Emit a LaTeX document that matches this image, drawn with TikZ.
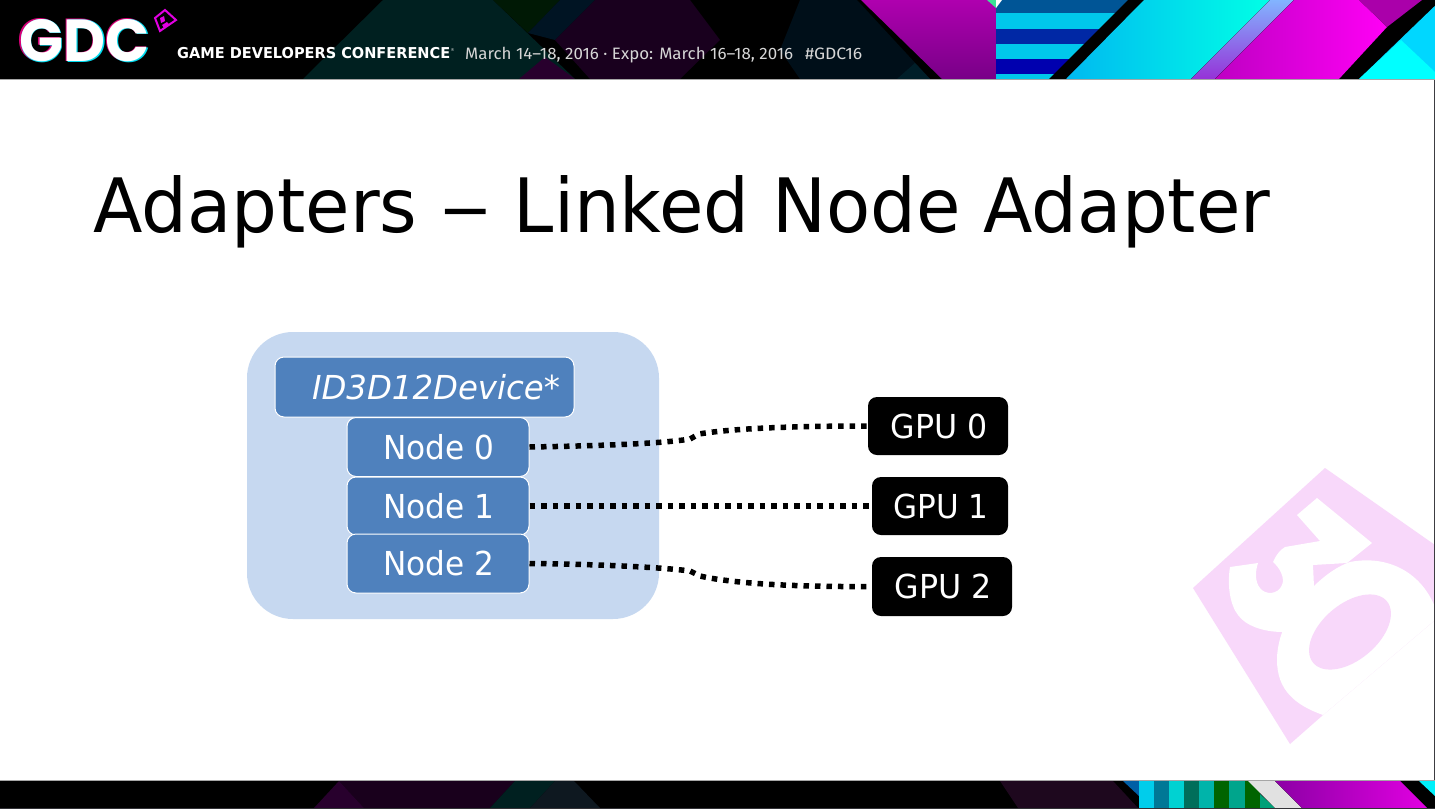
\documentclass[tikz,border=0pt]{standalone}
\usepackage{fontspec}
\usepackage{graphicx}
\usetikzlibrary{calc}
\setmainfont{DejaVu Sans}
\newfontfamily\logofont{Poppins}
\newfontfamily\bannerfont{Fira Sans}
\definecolor{panelblue}{RGB}{198,216,240}
\definecolor{boxblue}{RGB}{79,129,189}
\definecolor{wmpink}{RGB}{248,216,250}
\definecolor{hdrgray}{RGB}{214,214,214}
\definecolor{stripecyan}{RGB}{0,200,235}
\definecolor{logomag}{RGB}{225,0,225}
\definecolor{logored}{RGB}{215,0,120}
\definecolor{logocyan}{RGB}{0,220,240}
\definecolor{gA}{RGB}{175,0,175}
\definecolor{gB}{RGB}{120,0,135}
\definecolor{gC}{RGB}{0,185,240}
\definecolor{gD}{RGB}{0,255,230}
\definecolor{gE}{RGB}{150,50,215}
\definecolor{gF}{RGB}{130,180,255}
\definecolor{gG}{RGB}{190,0,195}
\definecolor{gH}{RGB}{255,0,245}
\definecolor{gI}{RGB}{140,0,165}
\definecolor{gJ}{RGB}{225,0,225}
\tikzset{
  blue box/.style={draw=white,line width=1pt,fill=boxblue,rounded corners=9pt,text=white,inner sep=0pt},
  gpu box/.style={fill=black,rounded corners=9pt,text=white,inner sep=0pt},
  conn/.style={draw=black,line width=5.5pt,dash pattern=on 5.5pt off 6pt}
}
\newcommand{\lblfont}{\fontsize{33}{33}\selectfont}
\begin{document}
\begin{tikzpicture}[x=1pt,y=-1pt]
\useasboundingbox (0,0) rectangle (1435,809);
\clip (0,0) rectangle (1435,809);
\fill[white] (0,0) rectangle (1435,809);

% watermark
\fill[wmpink] (1325,468) -- (1435,545) -- (1435,620) -- (1323,715) -- (1290,744) -- (1193,588) -- cycle;
% five
\fill[white] (1297,515) -- (1317,498) -- (1372,543) -- (1347,563) -- (1313,565) -- (1314,587) -- (1283,632)
  .. controls (1262,632) and (1245,625) .. (1238,615)
  .. controls (1230,605) and (1227,585) .. (1230,567)
  -- (1258,563)
  .. controls (1255,572) and (1255,582) .. (1260,588)
  .. controls (1265,595) and (1278,595) .. (1282,585)
  .. controls (1285,578) and (1280,568) .. (1273,562)
  .. controls (1276,555) and (1280,550) .. (1285,547)
  -- (1320,541) -- cycle;
% zero
\fill[white] (1277,660) .. controls (1277,628) and (1298,600) .. (1313,587)
  .. controls (1325,575) and (1338,566) .. (1350,562)
  .. controls (1385,555) and (1420,570) .. (1435,607) -- (1435,620) -- (1323,715)
  .. controls (1295,705) and (1277,690) .. (1277,660) -- cycle;
\fill[wmpink] (1350,632) ellipse[x radius=48pt,y radius=28pt,rotate=40];

% header
\fill[black] (0,0) rectangle (1435,79);
\fill[fill={rgb,255:red,0;green,32;blue,32}] (303,79) -- (383,0) -- (493,0) -- (575,79) -- cycle;
\fill[fill={rgb,255:red,0;green,25;blue,5}] (493,0) -- (560,0) -- (528,33) -- cycle;
\fill[fill={rgb,255:red,0;green,20;blue,35}] (528,33) -- (560,0) -- (595,0) -- (555,40) -- cycle;
\fill[fill={rgb,255:red,25;green,0;blue,30}] (555,40) -- (595,0) -- (690,0) -- (720,40) -- (680,79) -- (590,79) -- cycle;
\fill[fill={rgb,255:red,40;green,0;blue,45}] (519,79) -- (545,57) -- (575,79) -- cycle;
\fill[fill={rgb,255:red,0;green,15;blue,25}] (800,0) -- (857,0) -- (930,79) -- (800,79) -- (780,50) -- cycle;
\fill[fill={rgb,255:red,0;green,30;blue,40}] (897,79) -- (915,63) -- (930,79) -- cycle;
\fill[top color=gA,bottom color=gB] (861,0) -- (996,0) -- (996,79) -- (942,79) -- cycle;
% stripes
\fill[stripecyan] (996,13) rectangle (1140,29);
\fill[stripecyan] (996,44) rectangle (1140,59);
\fill[stripecyan] (996,74) rectangle (1140,79);
\fill[fill={rgb,255:red,0;green,40;blue,165}] (996,29) rectangle (1140,44);
\fill[fill={rgb,255:red,0;green,0;blue,175}] (996,59) rectangle (1140,74);
\fill[fill={rgb,255:red,0;green,85;blue,150}] (996,0) rectangle (1140,13);
\fill[fill={rgb,255:red,60;green,225;blue,150}] (987,0) -- (996,0) -- (996,8) -- cycle;
\fill[white] (996,0) -- (1002,0) -- (996,8) -- cycle;
% right of band 1
\fill[black] (1049,79) -- (1128,0) -- (1435,0) -- (1435,79) -- cycle;
\fill[left color=gC,right color=gD] (1066,79) -- (1144,0) -- (1270,0) -- (1191,79) -- cycle;
\fill[bottom color=gE,top color=gF] (1191,79) -- (1270,0) -- (1294,0) -- (1215,79) -- cycle;
\fill[left color=gG,right color=gH] (1215,79) -- (1294,0) -- (1359,0) -- (1387,27) -- (1339,79) -- cycle;
\fill[fill={rgb,255:red,170;green,0;blue,170}] (1359,0) -- (1422,0) -- (1387,27) -- cycle;
\fill[fill={rgb,255:red,0;green,215;blue,255}] (1359,79) -- (1441,0) -- (1435,79) -- cycle;
\fill[fill={rgb,255:red,0;green,255;blue,255}] (1359,79) -- (1401,40) -- (1435,72) -- (1435,79) -- cycle;
\fill[gray!70] (0,79) rectangle (1435,80);

% logo
\node[anchor=center,text=logored] (logoa) at (83.5,40.5) {\resizebox{132pt}{43pt}{\logofont\bfseries GDC}};
\node[anchor=center,text=logocyan] (logob) at (85.5,41) {\resizebox{132pt}{43pt}{\logofont\bfseries GDC}};
\node[anchor=center,text=white] (logoc) at (84.5,40.5) {\resizebox{130pt}{42pt}{\logofont\bfseries GDC}};
\draw[logomag,line width=2pt] (165,10) -- (176,20) -- (160,31) -- (155,18) -- cycle;
\fill[logomag] (160,18) -- (164,16) -- (165,21) -- (161,23) -- cycle;
\fill[logomag] (162,25) -- (167,22) -- (169,24) -- (164,28) -- cycle;

% banner text
\node[anchor=base west,inner sep=0pt,text=white] (conf) at (177,58.5) {\resizebox{273pt}{\height}{\fontsize{15}{15}\selectfont\bfseries GAME DEVELOPERS CONFERENCE}};
\node[anchor=base west,inner sep=0pt,text=hdrgray] (reg) at (450.5,51) {\fontsize{4}{4}\selectfont ®};
\node[anchor=base west,inner sep=0pt,text=hdrgray] (dates) at (465,59) {\resizebox{328pt}{\height}{\bannerfont\fontsize{16.5}{16.5}\selectfont March 14–18, 2016 · Expo: March 16–18, 2016}};
\node[anchor=base west,inner sep=0pt,text=hdrgray] (tag) at (805,59) {\resizebox{57pt}{\height}{\bannerfont\fontsize{16.5}{16.5}\selectfont \#GDC16}};

% footer
\fill[black] (0,780) rectangle (1435,808);
\fill[fill={rgb,255:red,25;green,0;blue,28}] (364,808) -- (339,781) -- (515,781) -- (490,808) -- cycle;
\fill[fill={rgb,255:red,40;green,0;blue,45}] (314,808) -- (339,781) -- (364,808) -- cycle;
\fill[fill={rgb,255:red,0;green,32;blue,32}] (490,808) -- (515,781) -- (555,781) -- (530,808) -- cycle;
\fill[fill={rgb,255:red,14;green,24;blue,32}] (530,808) -- (555,781) -- (574,781) -- (600,808) -- cycle;
\fill[fill={rgb,255:red,30;green,8;blue,30}] (1000,781) -- (1113,781) -- (1138,808) -- (1018,808) -- cycle;
\fill[fill={rgb,255:red,0;green,95;blue,165}] (1123,781) -- (1139,781) -- (1139,796) -- cycle;
\fill[fill={rgb,255:red,0;green,205;blue,235}] (1139,781) rectangle (1154,808);
\fill[fill={rgb,255:red,0;green,120;blue,150}] (1154,781) rectangle (1169,808);
\fill[fill={rgb,255:red,0;green,210;blue,210}] (1169,781) rectangle (1184,808);
\fill[fill={rgb,255:red,0;green,110;blue,90}] (1184,781) rectangle (1199,808);
\fill[fill={rgb,255:red,0;green,180;blue,170}] (1199,781) rectangle (1214,808);
\fill[fill={rgb,255:red,0;green,100;blue,0}] (1214,781) rectangle (1229,808);
\fill[fill={rgb,255:red,0;green,165;blue,140}] (1229,781) rectangle (1245,808);
\fill[fill={rgb,255:red,0;green,100;blue,0}] (1245,781) rectangle (1260,808);
\fill[fill={rgb,255:red,0;green,160;blue,120}] (1260,794) -- (1275,808) -- (1260,808) -- cycle;
\fill[fill={rgb,255:red,225;green,225;blue,225}] (1248,781) -- (1275,781) -- (1302,808) -- (1275,808) -- cycle;
\fill[left color=gI,right color=gJ] (1275,781) -- (1400,781) -- (1427,808) -- (1302,808) -- cycle;
\fill[fill={rgb,255:red,0;green,240;blue,250}] (1419,781) -- (1435,781) -- (1435,796) -- cycle;
\fill[fill={rgb,255:red,50;green,50;blue,55}] (0,808) rectangle (1435,809);
\fill[gray!70] (0,780) rectangle (1435,781);
\fill[fill={rgb,255:red,60;green,60;blue,65}] (1434,80) rectangle (1435,780);

% title
\node[anchor=base west,inner sep=0pt,text=black] (title) at (93,232) {\resizebox{1177pt}{\height}{\fontsize{75}{75}\selectfont Adapters \scalebox{1.4}[1]{–} Linked Node Adapter}};

% diagram
\node[fill=panelblue,rounded corners=46pt,minimum width=412pt,minimum height=287pt,inner sep=0pt] (panel) at (453,475.5) {};
\node[blue box,minimum width=299pt,minimum height=60pt] (dev) at (424.5,387) {\hspace*{23pt}\resizebox{248pt}{\height}{\lblfont\itshape ID3D12Device*}};
\node[blue box,minimum width=182pt,minimum height=59pt] (n0) at (438,447) {\hspace*{2pt}\resizebox{111pt}{\height}{\lblfont Node 0}};
\node[blue box,minimum width=182pt,minimum height=58pt] (n1) at (438,506) {\hspace*{2pt}\resizebox{111pt}{\height}{\lblfont Node 1}};
\node[blue box,minimum width=182pt,minimum height=59pt] (n2) at (438,563.5) {\hspace*{2pt}\resizebox{111pt}{\height}{\lblfont Node 2}};
\node[gpu box,minimum width=140pt,minimum height=58pt] (g0) at (938,426) {\hspace*{2pt}\resizebox{97pt}{\height}{\lblfont GPU 0}};
\node[gpu box,minimum width=136pt,minimum height=58pt] (g1) at (940,506) {\hspace*{2pt}\resizebox{95pt}{\height}{\lblfont GPU 1}};
\node[gpu box,minimum width=140pt,minimum height=59pt] (g2) at (942,586.5) {\hspace*{2pt}\resizebox{97pt}{\height}{\lblfont GPU 2}};

\coordinate (b0a) at (690,439);
\coordinate (b0b) at (699,434);
\coordinate (b2a) at (690,571);
\coordinate (b2b) at (700,576);
\draw[conn] (n0.east) .. controls (590,446) and (660,444) .. (b0a) -- (b0b) .. controls (735,428) and (800,426) .. (g0.west);
\draw[conn] (n1.east) -- (g1.west);
\draw[conn] (n2.east) .. controls (590,564) and (660,567) .. (b2a) -- (b2b) .. controls (735,584) and (800,587) .. (g2.west);
\end{tikzpicture}
\end{document}
